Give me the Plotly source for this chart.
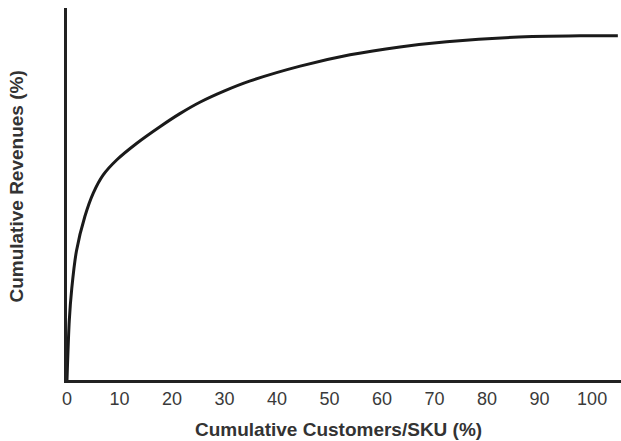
import plotly.graph_objects as go

# Cumulative customers/SKU (%) vs cumulative revenues (%)
customers_pct = [0, 0.44, 0.9, 1.8, 3.4, 5.0, 6.9, 9.5, 13.3, 17.7, 21.5, 25.3, 30.0, 34.9, 44.4, 53.9, 63.4, 72.3, 85.0, 97.7, 104.9]
revenues_pct = [0, 17.4, 26.5, 37.5, 47.5, 54.3, 59.6, 64.0, 68.8, 73.6, 77.4, 80.7, 84.0, 86.9, 91.2, 94.5, 96.8, 98.3, 99.6, 100.0, 100.0]

x_ticks = [0, 10, 20, 30, 40, 50, 60, 70, 80, 90, 100]
x_title = "Cumulative Customers/SKU (%)"
y_title = "Cumulative Revenues (%)"

font_family = "Liberation Sans, Arial, Helvetica, sans-serif"

fig = go.Figure()
fig.add_trace(go.Scatter(
    x=customers_pct, y=revenues_pct, mode="lines",
    line=dict(color="#1a1a1a", width=3, shape="spline", smoothing=0.8),
    hoverinfo="skip", showlegend=False,
))

fig.update_layout(
    width=621, height=441,
    margin=dict(l=67, r=0, t=8, b=61),
    paper_bgcolor="white", plot_bgcolor="white",
    font=dict(family=font_family, color="#333333"),
    xaxis=dict(
        range=[0, 105.5], showgrid=False, zeroline=False,
        showline=True, linecolor="#222222", linewidth=3,
        tickvals=x_ticks, ticktext=[str(v) for v in x_ticks],
        ticks="", ticklen=0, tickfont=dict(size=18, color="#3a3a3a"),
        fixedrange=True,
    ),
    yaxis=dict(
        range=[0, 108.1], showgrid=False, zeroline=False,
        showline=True, linecolor="#222222", linewidth=3,
        showticklabels=False, ticks="", fixedrange=True,
    ),
    annotations=[
        dict(text="<b>" + x_title + "</b>", xref="paper", yref="paper",
             x=0.49, y=0, yshift=-49, xanchor="center", yanchor="middle",
             showarrow=False, font=dict(size=19, color="#333333", family=font_family)),
        dict(text="<b>" + y_title + "</b>", xref="paper", yref="paper",
             x=0, xshift=-50, y=0.52, xanchor="center", yanchor="middle",
             textangle=-90, showarrow=False,
             font=dict(size=19, color="#333333", family=font_family)),
    ],
)

fig.write_html(
    "out.html",
    config={"displayModeBar": False},
    post_script="document.body.style.margin='0';document.body.style.overflow='hidden';",
)
